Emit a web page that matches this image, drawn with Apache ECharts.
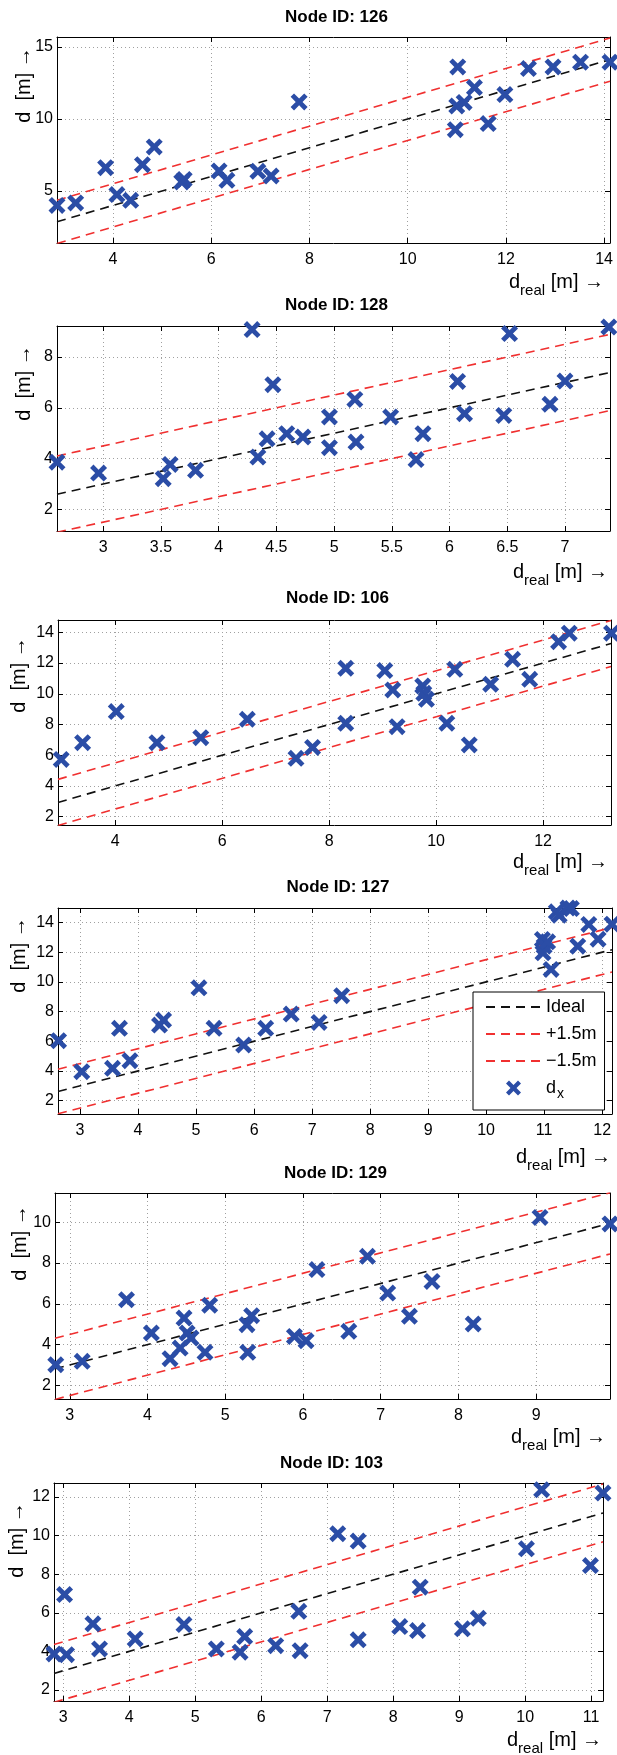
<!DOCTYPE html>
<html><head><meta charset="utf-8">
<script src="https://cdn.jsdelivr.net/npm/echarts@6/dist/echarts.min.js"></script>
<style>html,body{margin:0;padding:0;background:#fff}#c{width:617px;height:1755px}</style>
</head><body><div id="c"></div>
<script>
// ---------- DATA ----------
const nodeIds = ['126', '128', '106', '127', '129', '103'];

const real126 = [2.86,3.24,3.85,4.08,4.36,4.60,4.84,5.40,5.45,6.16,6.32,6.95,7.22,7.79,10.97,11.00,11.02,11.15,11.36,11.64,11.98,12.46,12.96,13.52,14.12];
const est126  = [4.00,4.17,6.62,4.75,4.35,6.83,8.06,5.63,5.80,6.39,5.74,6.37,6.04,11.18,9.26,10.90,13.61,11.15,12.18,9.68,11.69,13.50,13.61,13.94,13.94];

const real128 = [2.60,2.96,3.52,3.58,3.80,4.29,4.34,4.42,4.47,4.59,4.73,4.96,4.96,5.18,5.19,5.49,5.71,5.77,6.07,6.13,6.47,6.52,6.87,7.00,7.38];
const est128  = [3.86,3.43,3.21,3.77,3.54,9.08,4.06,4.78,6.91,4.98,4.85,5.64,4.43,6.33,4.65,5.64,3.96,4.98,7.04,5.77,5.70,8.92,6.14,7.05,9.18];

const real106 = [2.99,3.39,4.02,4.78,5.60,6.47,7.38,7.69,8.31,8.31,9.04,9.19,9.27,9.75,9.77,9.82,10.20,10.35,10.62,11.02,11.43,11.75,12.29,12.49,13.28];
const est106  = [5.73,6.82,8.84,6.82,7.14,8.34,5.80,6.51,11.66,8.08,11.51,10.25,7.86,10.51,10.03,9.64,8.08,11.59,6.67,10.62,12.24,10.94,13.39,13.94,13.94];

const real127 = [2.63,3.03,3.56,3.68,3.86,4.37,4.44,5.05,5.31,5.82,6.20,6.64,7.12,7.51,10.97,11.00,10.98,11.06,11.12,11.21,11.26,11.41,11.47,11.58,11.77,11.93,12.17];
const est127  = [6.04,3.95,4.18,6.87,4.69,7.09,7.43,9.60,6.87,5.75,6.87,7.83,7.27,9.07,12.86,12.41,11.96,12.70,10.84,14.72,14.49,14.98,14.94,12.41,13.87,12.88,13.89];

const real129 = [2.82,3.16,3.73,4.05,4.29,4.42,4.47,4.51,4.56,4.74,4.80,5.28,5.34,5.29,5.89,6.04,6.18,6.59,6.83,7.09,7.37,7.66,8.19,9.05,9.95];
const est129  = [3.01,3.18,6.20,4.57,3.31,3.83,5.30,4.57,4.32,3.62,5.93,4.98,5.42,3.62,4.40,4.19,7.68,4.65,8.33,6.53,5.39,7.10,5.01,10.24,9.92];

const real103 = [2.86,3.02,3.05,3.45,3.55,4.09,4.83,5.32,5.68,5.75,6.22,6.57,6.59,7.16,7.47,7.47,8.10,8.37,8.41,9.05,9.29,10.02,10.25,10.99,11.18];
const est103  = [3.87,6.95,3.83,5.43,4.13,4.65,5.39,4.13,3.96,4.77,4.30,6.08,4.04,10.10,4.60,9.72,5.29,5.08,7.33,5.17,5.72,9.32,12.38,8.45,12.21];

// axis limits
const xLim126 = [2.86, 14.12], yLim126 = [1.39, 15.69];
const xLim128 = [2.60, 7.39],  yLim128 = [1.15, 9.22];
const xLim106 = [2.93, 13.27], yLim106 = [1.46, 14.80];
const xLim127 = [2.62, 12.17], yLim127 = [1.10, 14.98];
const xLim129 = [2.81, 9.95],  yLim129 = [1.33, 11.44];
const xLim103 = [2.86, 11.18], yLim103 = [1.43, 12.73];

// tick labels
const xTicks126 = [4, 6, 8, 10, 12, 14];            const yTicks126 = [5, 10, 15];
const xTicks128 = [3, 3.5, 4, 4.5, 5, 5.5, 6, 6.5, 7]; const yTicks128 = [2, 4, 6, 8];
const xTicks106 = [4, 6, 8, 10, 12];                const yTicks106 = [2, 4, 6, 8, 10, 12, 14];
const xTicks127 = [3, 4, 5, 6, 7, 8, 9, 10, 11, 12]; const yTicks127 = [2, 4, 6, 8, 10, 12, 14];
const xTicks129 = [3, 4, 5, 6, 7, 8, 9];            const yTicks129 = [2, 4, 6, 8, 10];
const xTicks103 = [3, 4, 5, 6, 7, 8, 9, 10, 11];    const yTicks103 = [2, 4, 6, 8, 10, 12];

const legendLabels = ['Ideal', '+1.5m', '\u22121.5m', 'd_x'];
const bandOffset = 1.5;   // +-1.5 m band
const legendPanel = 3;    // Node 127 carries the legend

// ---------- BUILD ----------
const panels = [
  {real: real126, est: est126, xl: xLim126, yl: yLim126, xt: xTicks126, yt: yTicks126},
  {real: real128, est: est128, xl: xLim128, yl: yLim128, xt: xTicks128, yt: yTicks128},
  {real: real106, est: est106, xl: xLim106, yl: yLim106, xt: xTicks106, yt: yTicks106},
  {real: real127, est: est127, xl: xLim127, yl: yLim127, xt: xTicks127, yt: yTicks127},
  {real: real129, est: est129, xl: xLim129, yl: yLim129, xt: xTicks129, yt: yTicks129},
  {real: real103, est: est103, xl: xLim103, yl: yLim103, xt: xTicks103, yt: yTicks103}
];
const layout = [
  {left: 57, top: 37,   w: 553, h: 206, titleY: 17,   ylx: 24, yly: 85,   xlr: 604, xly: 282},
  {left: 57, top: 326,  w: 553, h: 205, titleY: 305,  ylx: 24, yly: 383,  xlr: 608, xly: 572},
  {left: 58, top: 620,  w: 553, h: 205, titleY: 598,  ylx: 19, yly: 675,  xlr: 608, xly: 862},
  {left: 58, top: 908,  w: 554, h: 206, titleY: 887,  ylx: 19, yly: 955,  xlr: 611, xly: 1157},
  {left: 55, top: 1193, w: 555, h: 206, titleY: 1173, ylx: 20, yly: 1243, xlr: 606, xly: 1437},
  {left: 54, top: 1483, w: 549, h: 218, titleY: 1463, ylx: 17, yly: 1540, xlr: 602, xly: 1740}
];

const FONT = "'Liberation Sans', Arial, Helvetica, sans-serif";
const BLUE = '#2b4da6', RED = '#f03030', BLACK = '#111';
const XSYM = 'path://M0,2L2,0L5,3L8,0L10,2L7,5L10,8L8,10L5,7L2,10L0,8L3,5Z';
const dash = [9, 6];

const grids = [], xAxes = [], yAxes = [], series = [], graphics = [];

panels.forEach((p, i) => {
  const L = layout[i];
  grids.push({left: L.left, top: L.top, width: L.w, height: L.h, outerBoundsMode: 'none', containLabel: false});
  const axLine = {show: true, onZero: false, lineStyle: {color: '#000', width: 1}};
  const grid = {show: true, lineStyle: {color: '#a0a0a0', width: 1, type: [1, 3]}};
  xAxes.push({
    type: 'value', gridIndex: i, min: p.xl[0], max: p.xl[1], position: 'bottom',
    axisLine: axLine,
    axisTick: {show: true, inside: true, length: 5, customValues: p.xt, lineStyle: {color: '#000'}},
    axisLabel: {customValues: p.xt, margin: 9, fontSize: 16, color: '#000', fontFamily: FONT},
    splitLine: grid
  });
  xAxes.push({
    type: 'value', gridIndex: i, min: p.xl[0], max: p.xl[1], position: 'top',
    axisLine: axLine,
    axisTick: {show: true, inside: true, length: 5, customValues: p.xt, lineStyle: {color: '#000'}},
    axisLabel: {show: false}, splitLine: {show: false}
  });
  yAxes.push({
    type: 'value', gridIndex: i, min: p.yl[0], max: p.yl[1], position: 'left',
    axisLine: axLine,
    axisTick: {show: true, inside: true, length: 5, customValues: p.yt, lineStyle: {color: '#000'}},
    axisLabel: {customValues: p.yt, margin: 4, fontSize: 16, color: '#000', fontFamily: FONT},
    splitLine: grid
  });
  yAxes.push({
    type: 'value', gridIndex: i, min: p.yl[0], max: p.yl[1], position: 'right',
    axisLine: axLine,
    axisTick: {show: true, inside: true, length: 5, customValues: p.yt, lineStyle: {color: '#000'}},
    axisLabel: {show: false}, splitLine: {show: false}
  });
  const xa = 2 * i, ya = 2 * i;
  const isLeg = i === legendPanel;
  const lines = [[0, BLACK], [bandOffset, RED], [-bandOffset, RED]];
  lines.forEach((ln, k) => {
    series.push({
      type: 'line', name: isLeg ? legendLabels[k] : legendLabels[k] + '#' + i,
      xAxisIndex: xa, yAxisIndex: ya, symbol: 'none', showSymbol: false, silent: true, animation: false,
      lineStyle: {color: ln[1], width: 1.6, type: dash}, itemStyle: {color: ln[1]},
      data: [[p.xl[0], p.xl[0] + ln[0]], [p.xl[1], p.xl[1] + ln[0]]], z: 2
    });
  });
  series.push({
    type: 'scatter', name: isLeg ? legendLabels[3] : legendLabels[3] + '#' + i,
    xAxisIndex: xa, yAxisIndex: ya, symbol: XSYM, symbolSize: 17, symbolKeepAspect: true,
    clip: false, animation: false, itemStyle: {color: BLUE, opacity: 1}, z: 3,
    data: p.real.map((v, j) => [v, p.est[j]])
  });

  // title
  graphics.push({type: 'text', x: L.left + L.w / 2 + 3, y: L.titleY,
    style: {text: 'Node ID: ' + nodeIds[i], fontFamily: FONT, fontSize: 17, fontWeight: 'bold',
      fill: '#000', align: 'center', verticalAlign: 'middle'}});
  // y label
  graphics.push({type: 'text', x: L.ylx, y: L.yly, rotation: Math.PI / 2,
    style: {text: 'd  [m] \u2192', fontFamily: FONT, fontSize: 20, fill: '#000',
      align: 'center', verticalAlign: 'middle'}});
  // x label
  graphics.push({type: 'text', x: L.xlr, y: L.xly,
    style: {text: '{d|d}{s|real}{n| [m] \u2192}', align: 'right', verticalAlign: 'middle',
      fill: '#000', fontFamily: FONT,
      rich: {d: {fontSize: 20, fontFamily: FONT, fill: '#000'},
             s: {fontSize: 15, fontFamily: FONT, fill: '#000', padding: [18, 0, 0, 0]},
             n: {fontSize: 20, fontFamily: FONT, fill: '#000'}}}});
});

const hideSym = {opacity: 0};
const option = {
  backgroundColor: '#fff',
  animation: false,
  grid: grids, xAxis: xAxes, yAxis: yAxes, series: series,
  legend: {
    data: legendLabels.map((n, k) => k < 3 ? {name: n, itemStyle: hideSym} : {name: n}),
    orient: 'vertical', left: 473, top: 992,
    itemWidth: 55, itemHeight: 15, itemGap: 9,
    padding: [6, 8, 9, 12],
    backgroundColor: '#fff', borderColor: '#000', borderWidth: 1, borderRadius: 0,
    selectedMode: false,
    textStyle: {fontSize: 18, fontFamily: FONT, color: '#000', lineHeight: 18,
      rich: {m: {fontSize: 18, fontFamily: FONT, color: '#000'},
             s: {fontSize: 14, fontFamily: FONT, color: '#000', padding: [12, 0, 0, 1]}}},
    formatter: n => n === 'd_x' ? '{m|d}{s|x}' : n
  },
  graphic: graphics
};
const chart = echarts.init(document.getElementById('c'), null, {renderer: 'canvas'});
chart.setOption(option);
</script></body></html>
